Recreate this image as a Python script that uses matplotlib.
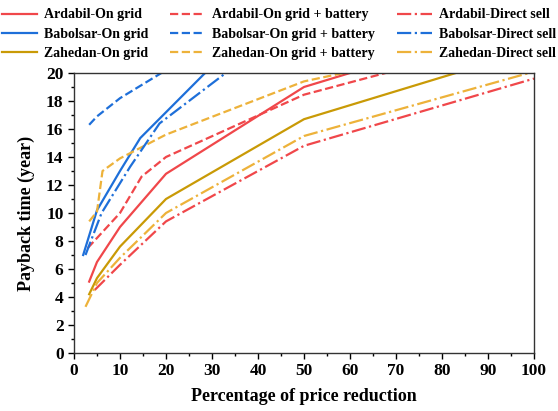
import matplotlib
matplotlib.use("Agg")
import matplotlib.pyplot as plt
from matplotlib.ticker import MultipleLocator

plt.rcParams['font.family'] = ['Liberation Serif', 'DejaVu Serif']
plt.rcParams['font.weight'] = 'bold'

# price reduction (%) vs payback time (year)
ard_grid_x = [3.3, 5, 10, 20, 50, 60]
ard_grid_y = [5.1, 6.5, 9.0, 12.8, 19.0, 20.0]
ard_batt_x = [3, 10, 14.7, 20, 50, 70]
ard_batt_y = [7.5, 10.0, 12.6, 14.0, 18.45, 20.2]
ard_sell_x = [4.5, 10, 20, 50, 100]
ard_sell_y = [4.5, 6.3, 9.4, 14.8, 19.6]

bab_grid_x = [2, 5, 10, 14.4, 28.5]
bab_grid_y = [7.0, 10.2, 13.0, 15.35, 20.0]
bab_batt_x = [3.3, 5, 10, 19]
bab_batt_y = [16.3, 16.9, 18.2, 20.0]
bab_sell_x = [2.5, 6, 12.2, 18.6, 33]
bab_sell_y = [7.0, 10.0, 13.3, 16.4, 20.0]

zah_grid_x = [3.3, 5, 10, 20, 50, 83]
zah_grid_y = [4.2, 5.35, 7.6, 11.0, 16.7, 20.0]
zah_batt_x = [3.3, 5, 6.2, 10, 20, 50, 60]
zah_batt_y = [9.4, 10.1, 13.0, 13.9, 15.6, 19.4, 20.1]
zah_sell_x = [2.5, 5, 10, 20, 50, 100]
zah_sell_y = [3.3, 5.0, 6.8, 10.0, 15.5, 20.1]

red = '#F0474A'
blue = '#1E6FD9'
gold = '#C99A06'
orange = '#EDB23A'

fig = plt.figure(figsize=(5.58, 4.11), dpi=100)
ax = fig.add_axes([0.1326, 0.1411, 0.957 - 0.1326, 0.8224 - 0.1411])

lw = 1.6
ax.plot(ard_grid_x, ard_grid_y, color=red, lw=lw, label='Ardabil-On grid')
ax.plot(bab_grid_x, bab_grid_y, color=blue, lw=lw, label='Babolsar-On grid')
ax.plot(zah_grid_x, zah_grid_y, color=gold, lw=lw, label='Zahedan-On grid')
ax.plot(ard_batt_x, ard_batt_y, color=red, lw=lw, ls='--', label='Ardabil-On grid + battery')
ax.plot(bab_batt_x, bab_batt_y, color=blue, lw=lw, ls='--', label='Babolsar-On grid + battery')
ax.plot(zah_batt_x, zah_batt_y, color=orange, lw=lw, ls='--', label='Zahedan-On grid + battery')
ax.plot(ard_sell_x, ard_sell_y, color=red, lw=lw, ls='-.', label='Ardabil-Direct sell')
ax.plot(bab_sell_x, bab_sell_y, color=blue, lw=lw, ls='-.', label='Babolsar-Direct sell')
ax.plot(zah_sell_x, zah_sell_y, color=orange, lw=lw, ls='-.', label='Zahedan-Direct sell')

ax.set_xlim(0, 100)
ax.set_ylim(0, 20)
ax.xaxis.set_major_locator(MultipleLocator(10))
ax.xaxis.set_minor_locator(MultipleLocator(5))
ax.yaxis.set_major_locator(MultipleLocator(2))
ax.yaxis.set_minor_locator(MultipleLocator(1))
ax.tick_params(which='both', direction='out', width=1.0, labelsize=12.5)
ax.tick_params(which='major', length=4)
ax.tick_params(which='minor', length=2.5)
for s in ax.spines.values():
    s.set_linewidth(1.0)
    s.set_color('#333333')

ax.set_xlabel('Percentage of price reduction', fontsize=13, fontweight='bold', labelpad=6)
ax.set_ylabel('Payback time (year)', fontsize=13, fontweight='bold', labelpad=8)

fig.legend(loc='upper center', bbox_to_anchor=(0.5, 1.01), ncol=3, frameon=False,
           fontsize=10, handlelength=2.5, columnspacing=1.6, handletextpad=0.5,
           labelspacing=0.45)

fig.savefig('out.png', dpi=100)
